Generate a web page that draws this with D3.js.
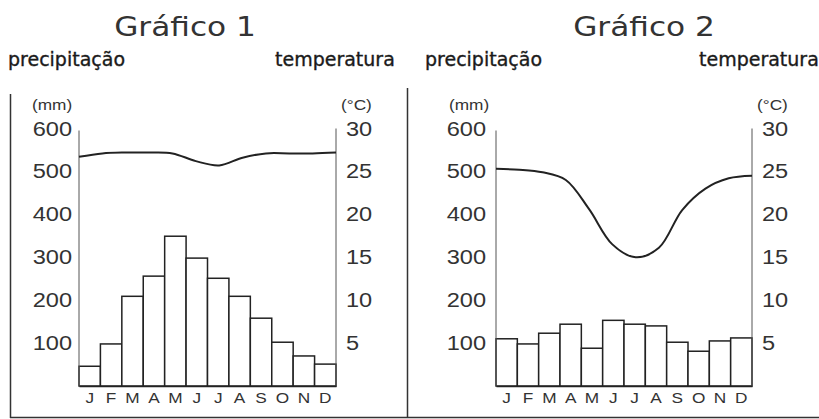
<!DOCTYPE html>
<html>
<head>
<meta charset="utf-8">
<script src="https://cdn.jsdelivr.net/npm/d3@7/dist/d3.min.js"></script>
<style>
  html, body { margin: 0; padding: 0; background: #fff; }
  svg { display: block; }
</style>
</head>
<body>
<svg id="chart" width="819" height="419"></svg>
<script>
// ---- data ----
const months = ["J", "F", "M", "A", "M", "J", "J", "A", "S", "O", "N", "D"];
const precip1 = [46, 98, 209, 256, 349, 298, 251, 209, 158, 102, 70, 51];
const temp1 = [26.7, 27.1, 27.2, 27.2, 27.1, 26.2, 25.7, 26.6, 27.1, 27.1, 27.1, 27.2];
const precip2 = [110, 98, 123, 144, 88, 153, 144, 140, 102, 81, 105, 112];
const temp2 = [25.3, 25.2, 24.9, 24.0, 20.6, 16.5, 15.0, 16.1, 20.5, 23.0, 24.2, 24.5];
const precipTicks = [100, 200, 300, 400, 500, 600];
const tempTicks = [5, 10, 15, 20, 25, 30];
const titles = ["Gráfico 1", "Gráfico 2"];

const svg = d3.select("#chart");
const SX = 1.15; // horizontal stretch of the reference lettering

// frame
svg.append("line").attr("x1", 10.5).attr("x2", 10.5).attr("y1", 94).attr("y2", 418)
  .attr("stroke", "#333").attr("stroke-width", 1.5);
svg.append("line").attr("x1", 407.5).attr("x2", 407.5).attr("y1", 88).attr("y2", 418)
  .attr("stroke", "#333").attr("stroke-width", 1.5);
svg.append("line").attr("x1", 10).attr("x2", 819).attr("y1", 417.5).attr("y2", 417.5)
  .attr("stroke", "#333").attr("stroke-width", 1.5);

const panels = [
  { x0: 79, x1: 336, precip: precip1, temp: temp1, title: titles[0], titleX: 185, pX: 8, tX: 275, lPad: 7 },
  { x0: 496, x1: 752, precip: precip2, temp: temp2, title: titles[1], titleX: 644, pX: 425, tX: 699, lPad: 10 }
];

const yP = d3.scaleLinear().domain([0, 600]).range([386, 128.5]);
const yT = d3.scaleLinear().domain([0, 30]).range([386, 128.5]);

function stretchedText(g, x, y, anchor, family, size, fill, txt, sx) {
  return g.append("text")
    .attr("transform", `translate(${x},${y}) scale(${sx},1)`)
    .attr("text-anchor", anchor)
    .attr("font-family", family).attr("font-size", size).attr("fill", fill)
    .text(txt);
}

panels.forEach(p => {
  const g = svg.append("g");
  const x = d3.scaleBand().domain(d3.range(12)).range([p.x0, p.x1]).padding(0);
  const xp = d3.scalePoint().domain(d3.range(12)).range([p.x0, p.x1]).padding(0);

  // titles
  stretchedText(g, p.titleX, 36, "middle", "DejaVu Sans", 26, "#333", p.title, 1.2);
  stretchedText(g, p.pX, 66, "start", "DejaVu Sans", 19, "#1a1a1a", "precipitação", 1.0)
    .attr("stroke", "#1a1a1a").attr("stroke-width", 0.35);
  stretchedText(g, p.tX, 66, "start", "DejaVu Sans", 19, "#1a1a1a", "temperatura", 1.0)
    .attr("stroke", "#1a1a1a").attr("stroke-width", 0.35);

  // units
  stretchedText(g, p.x0 - 47, 110, "start", "Liberation Sans", 15, "#333", "(mm)", SX);
  stretchedText(g, p.x1 + 5, 110, "start", "Liberation Sans", 15, "#333", "(°C)", SX);

  // bars
  g.selectAll("rect.bar").data(p.precip).join("rect")
    .attr("class", "bar")
    .attr("x", (d, i) => x(i))
    .attr("width", x.bandwidth())
    .attr("y", d => yP(d))
    .attr("height", d => yP(0) - yP(d))
    .attr("fill", "#fff").attr("stroke", "#222").attr("stroke-width", 1.5);

  // left axis
  const la = g.append("g").attr("transform", `translate(${p.x0},0)`)
    .call(d3.axisLeft(yP).tickValues(precipTicks).tickSize(0).tickPadding(p.lPad / SX));
  la.select(".domain").attr("stroke", "#555").attr("stroke-width", 1).attr("d", `M0,${yP(0)}V${yP(600) + 2}`);
  la.selectAll("text").attr("font-family", "Liberation Sans").attr("font-size", 20.5).attr("fill", "#333")
    .attr("transform", `scale(${SX},1)`);

  // right axis
  const ra = g.append("g").attr("transform", `translate(${p.x1},0)`)
    .call(d3.axisRight(yT).tickValues(tempTicks).tickSize(0).tickPadding(10 / SX));
  ra.select(".domain").attr("stroke", "#555").attr("stroke-width", 1).attr("d", `M0,${yT(0)}V${yT(30)}`);
  ra.selectAll("text").attr("font-family", "Liberation Sans").attr("font-size", 20.5).attr("fill", "#333")
    .attr("transform", `scale(${SX},1)`);

  // bottom axis
  const ba = g.append("g").attr("transform", `translate(0,${yP(0)})`)
    .call(d3.axisBottom(x).tickFormat(i => months[i]).tickSize(0).tickPadding(6));
  ba.select(".domain").attr("stroke", "#222").attr("stroke-width", 1.5);
  ba.selectAll("text").attr("font-family", "Liberation Sans").attr("font-size", 15).attr("fill", "#333")
    .attr("transform", `scale(${SX},1)`);

  // temperature line
  const line = d3.line().x((d, i) => xp(i)).y(d => yT(d)).curve(d3.curveCatmullRom.alpha(0.5));
  g.append("path").datum(p.temp).attr("d", line)
    .attr("fill", "none").attr("stroke", "#222").attr("stroke-width", 2);
});
</script>
</body>
</html>
